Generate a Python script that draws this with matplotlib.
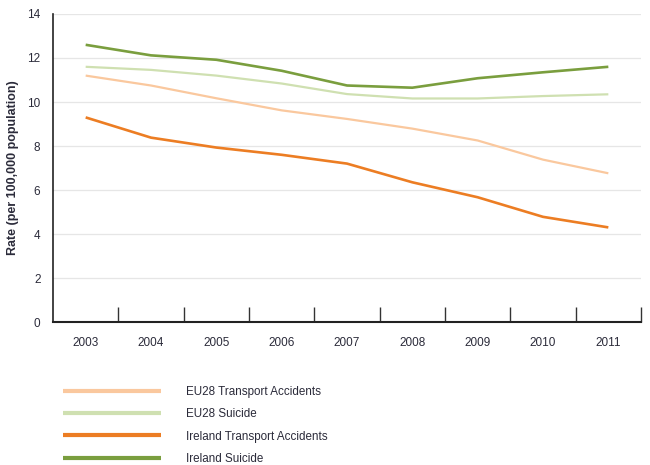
import matplotlib
matplotlib.use("Agg")
import matplotlib.pyplot as plt
import numpy as np

plt.rcParams['font.family'] = ['Liberation Sans', 'DejaVu Sans']

years = ['2003', '2004', '2005', '2006', '2007', '2008', '2009', '2010', '2011']
eu_transport = [11.2, 10.75, 10.17, 9.62, 9.23, 8.79, 8.25, 7.38, 6.76]
eu_suicide = [11.6, 11.46, 11.2, 10.84, 10.36, 10.16, 10.16, 10.27, 10.35]
ie_transport = [9.3, 8.38, 7.93, 7.6, 7.2, 6.35, 5.67, 4.78, 4.3]
ie_suicide = [12.6, 12.12, 11.92, 11.42, 10.75, 10.65, 11.08, 11.35, 11.6]

series = [
    ('EU28 Transport Accidents', eu_transport, '#FAC89E', 1.6),
    ('EU28 Suicide', eu_suicide, '#CFE0B1', 1.6),
    ('Ireland Transport Accidents', ie_transport, '#EC7D23', 1.9),
    ('Ireland Suicide', ie_suicide, '#7A9E3E', 1.9),
]

fig = plt.figure(figsize=(6.5, 4.65), dpi=100)
ax = fig.add_axes([53/650, 1 - 322/465, (641 - 53)/650, (322 - 14)/465])

x = np.arange(len(years))
for name, vals, col, lw in series:
    ax.plot(x, vals, color=col, lw=lw, label=name, solid_capstyle='butt')

ax.set_xlim(-0.5, len(years) - 0.5)
ax.set_ylim(0, 14)
ax.set_yticks(np.arange(0, 15, 2))
ax.grid(axis='y', color='#e6e6e6', lw=0.9)
ax.set_axisbelow(True)

ax.set_xticks(x)
ax.set_xticklabels(years)
ax.set_xticks(np.arange(0.5, len(years), 1), minor=True)
ax.tick_params(axis='x', which='major', length=0, pad=11, labelsize=8.5, labelcolor='#2b2b3a')
ax.tick_params(axis='x', which='minor', direction='in', length=11, width=1.0, color='#333333')
ax.tick_params(axis='y', length=0, pad=9, labelsize=8.5, labelcolor='#2b2b3a')

for s in ['top', 'right']:
    ax.spines[s].set_visible(False)
ax.spines['left'].set_color('#222222')
ax.spines['left'].set_linewidth(1.2)
ax.spines['bottom'].set_color('#222222')
ax.spines['bottom'].set_linewidth(1.5)

ax.set_ylabel('Rate (per 100,000 population)', fontsize=9, fontweight='bold', color='#2b2b3a', labelpad=6)

leg = ax.legend(loc='upper left', bbox_to_anchor=(63/650, 1 - 386/465), bbox_transform=fig.transFigure,
                frameon=False, fontsize=8.4, handlelength=8.4, handletextpad=2.1, labelspacing=0.88,
                borderpad=0, borderaxespad=0)
for t in leg.get_texts():
    t.set_color('#2b2b3a')
for h in leg.get_lines():
    h.set_linewidth(3.0)

fig.savefig('out.png', dpi=100)
